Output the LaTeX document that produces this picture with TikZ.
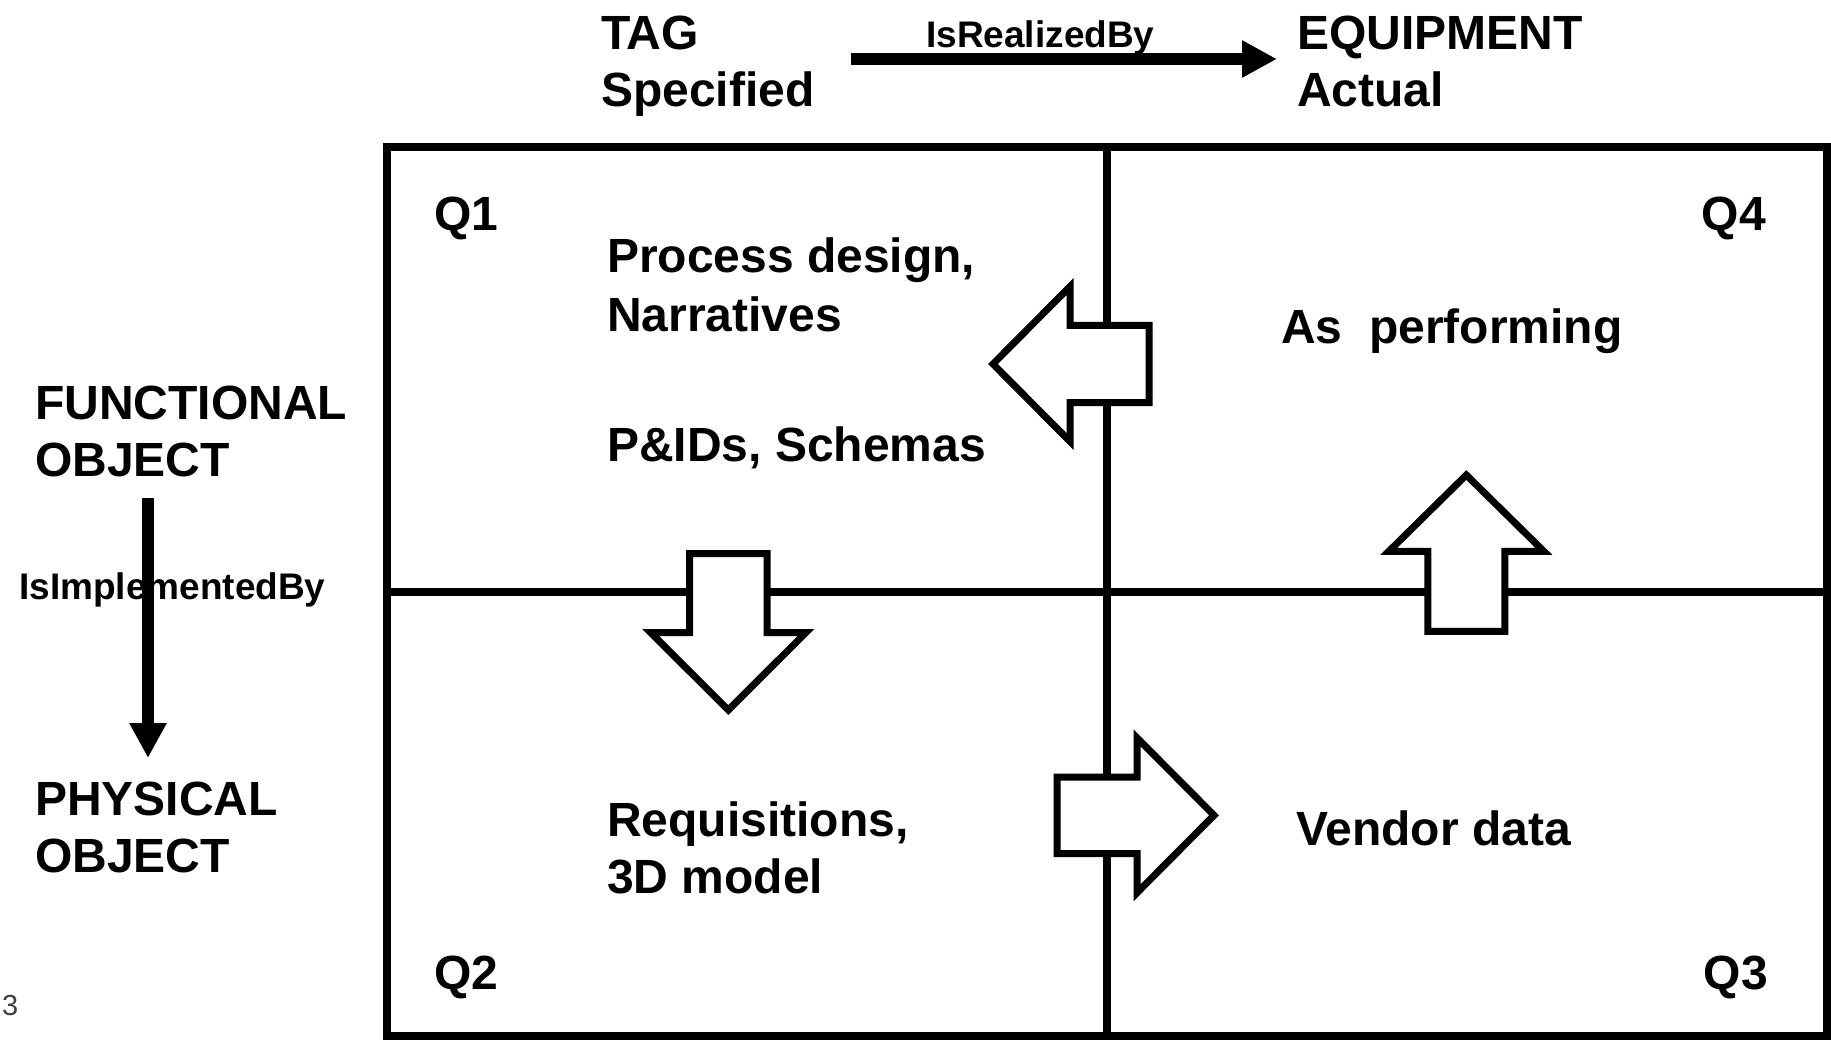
\documentclass[tikz,border=0pt]{standalone}
\usepackage{fontspec}
\setmainfont{Liberation Sans}
\usetikzlibrary{arrows.meta}

\begin{document}
\begin{tikzpicture}[x=1pt,y=1pt,yscale=-1,xscale=1,
  lbl/.style={anchor=base west,inner sep=0pt,align=left,font=\fontsize{48}{57}\selectfont\bfseries},
  rlbl/.style={lbl,anchor=base east},
  small/.style={anchor=base west,inner sep=0pt,font=\fontsize{37}{44}\selectfont\bfseries},
  frame/.style={line width=8pt,line cap=rect},
  relarrow/.style={line width=12pt,-{Triangle[length=35pt,width=35pt]}},
  blockarrow/.style={draw,line width=7pt,fill=white,line join=miter}]
\useasboundingbox (0,0) rectangle (1831,1039);

% begin part (multi-line nodes sit on their last line)
\node[lbl] (tag) at (601,106) {TAG\\Specified};
\node[lbl] (equip) at (1297,106) {EQUIPMENT\\Actual};
\node[small] (realized) at (926,47) {IsRealizedBy};

\node[lbl] (func) at (35,476) {FUNCTIONAL\\OBJECT};
\node[lbl] (phys) at (35,872) {PHYSICAL\\OBJECT};
\node[small] (implemented) at (19,599) {IsImplementedBy};

\coordinate (realstart) at (851,59);
\coordinate (realend) at (1277,59);
\draw [relarrow] (realstart) -- (realend);

\coordinate (implstart) at (148,498);
\coordinate (implend) at (148,758);
\draw [relarrow] (implstart) -- (implend);

% quadrants
\draw [frame] (387,146.5) rectangle (1826.5,1035.5);
\draw [frame] (1106.5,146.5) -- (1106.5,1035.5);
\draw [frame] (387,591.7) -- (1826.5,591.7);

\node[lbl] (q1) at (434,230) {Q1};
\node[rlbl] (q4) at (1766,230) {Q4};
\node[lbl] (q2) at (434,989) {Q2};
\node[rlbl] (q3) at (1768,989) {Q3};

\node[lbl] (process) at (607,331) {Process design,\\[2pt]Narratives};
\node[lbl] (pids) at (607,461) {P\&IDs, Schemas};
\node[lbl] (asperf) at (1281,343) {As~~performing};
\node[lbl] (requis) at (607,893) {Requisitions,\\3D model};
\node[lbl] (vendor) at (1296,845) {Vendor data};

% block arrows
\draw [blockarrow] (1149,325.3) -- (1070,325.3) -- (1070,286.5) -- (993,364)
  -- (1070,441.5) -- (1070,402.7) -- (1149,402.7) -- cycle;
\draw [blockarrow] (689.5,553.7) -- (767.1,553.7) -- (767.1,632.7) -- (805.8,632.7)
  -- (728.3,710) -- (650.8,632.7) -- (689.5,632.7) -- cycle;
\draw [blockarrow] (1057,777) -- (1137,777) -- (1137,737.8) -- (1214,815.3)
  -- (1137,892.8) -- (1137,853.6) -- (1057,853.6) -- cycle;
\draw [blockarrow] (1427.8,631.3) -- (1427.8,551.3) -- (1388.8,551.3) -- (1466.3,475)
  -- (1543.8,551.3) -- (1504.8,551.3) -- (1504.8,631.3) -- cycle;

\node[anchor=base west,inner sep=0pt,text=black!75,font=\fontsize{29}{34}\selectfont] (pagenum) at (2,1015) {3};

\end{tikzpicture}
\end{document}
